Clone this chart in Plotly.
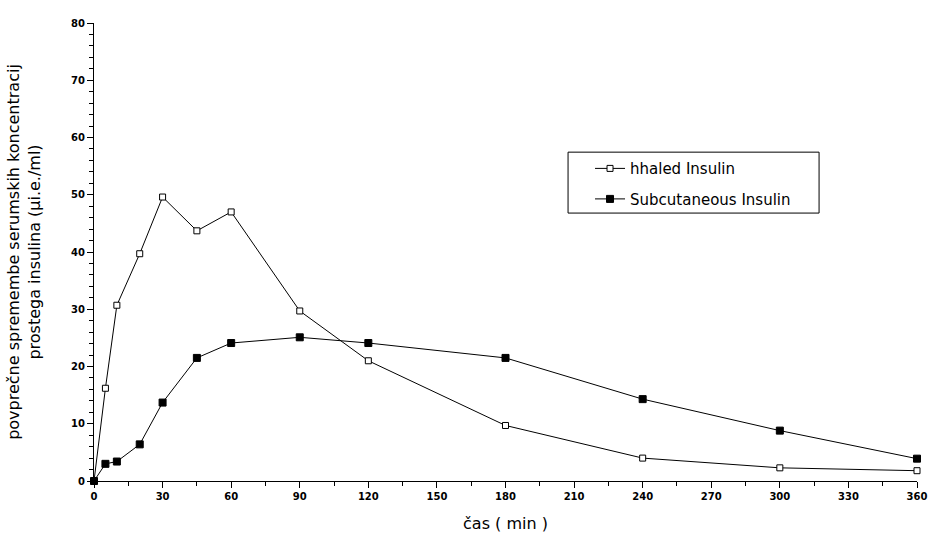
import plotly.graph_objects as go

time_min = [0, 5, 10, 20, 30, 45, 60, 90, 120, 180, 240, 300, 360]
inhaled = [0, 16.2, 30.7, 39.7, 49.6, 43.7, 47.0, 29.7, 21.0, 9.7, 4.0, 2.3, 1.8]
subcutaneous = [0, 3.0, 3.4, 6.4, 13.7, 21.5, 24.1, 25.1, 24.1, 21.5, 14.3, 8.8, 3.9]
x_ticks = list(range(0, 361, 30))
y_ticks = list(range(0, 81, 10))

FONT = "DejaVu Sans, Verdana, sans-serif"

fig = go.Figure()
fig.add_trace(go.Scatter(
    x=time_min, y=inhaled, mode="lines+markers", name="hhaled Insulin", legendgroup="a",
    line=dict(color="black", width=1),
    marker=dict(symbol="square", size=6, color="white", line=dict(color="black", width=1)),
    cliponaxis=False,
))
fig.add_trace(go.Scatter(
    x=time_min, y=subcutaneous, mode="lines+markers", name="Subcutaneous Insulin", legendgroup="b",
    line=dict(color="black", width=1),
    marker=dict(symbol="square", size=7, color="black", line=dict(color="black", width=1)),
    cliponaxis=False,
))

tickfont = dict(family=FONT, size=10, color="black", weight="bold")
fig.update_layout(
    width=929, height=533,
    margin=dict(l=94, r=12, t=23, b=52),
    paper_bgcolor="white", plot_bgcolor="white",
    font=dict(family=FONT, size=15, color="black"),
    showlegend=True,
    legend=dict(
        x=0.6027, y=0.718, xanchor="left", yanchor="top",
        borderwidth=0, bgcolor="rgba(0,0,0,0)",
        font=dict(family=FONT, size=15), itemwidth=30, tracegroupgap=8,
    ),
    shapes=[
        dict(type="rect", xref="paper", yref="paper", x0=0.576, x1=0.881, y0=0.585, y1=0.718,
             line=dict(color="black", width=1), fillcolor="rgba(0,0,0,0)", layer="below"),
    ],
    xaxis=dict(
        range=[0, 360], tickvals=x_ticks, ticktext=[str(v) for v in x_ticks],
        showgrid=False, zeroline=False, showline=True, linecolor="black", linewidth=1,
        ticks="outside", ticklen=6, tickcolor="black", tickfont=tickfont, automargin=False,
        minor=dict(dtick=15, tick0=0, ticks="outside", ticklen=4, tickcolor="black", showgrid=False),
        title=dict(text="čas ( min )", font=dict(family=FONT, size=16), standoff=17),
    ),
    yaxis=dict(
        range=[0, 80], tickvals=y_ticks, ticktext=[str(v) for v in y_ticks],
        showgrid=False, zeroline=False, showline=True, linecolor="black", linewidth=1,
        ticks="outside", ticklen=6, tickcolor="black", tickfont=tickfont, automargin=False,
        minor=dict(dtick=2, tick0=0, ticks="outside", ticklen=4, tickcolor="black", showgrid=False),
        title=dict(text="povprečne spremembe serumskih koncentracij<br>prostega insulina (µi.e./ml)",
                   font=dict(family=FONT, size=16), standoff=26),
    ),
    annotations=[
        dict(text="Exubera (4 mg)", x=375, y=55.9, xref="x", yref="y",
             xanchor="left", yanchor="middle", showarrow=False, font=dict(family=FONT, size=15)),
        dict(text="Topni humani<br>insulin (12 U)", x=642, y=38.5, xref="x", yref="y",
             xanchor="left", yanchor="middle", showarrow=False, align="left",
             font=dict(family=FONT, size=15)),
    ],
)
fig.write_html("out.html", post_script="document.body.style.margin='0';",
               config={"displayModeBar": False})
